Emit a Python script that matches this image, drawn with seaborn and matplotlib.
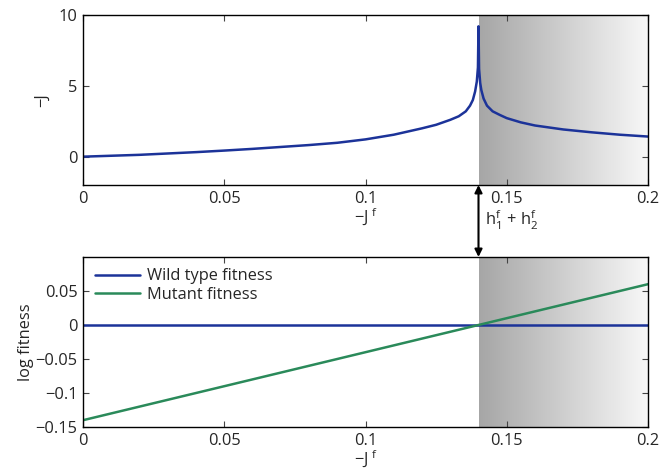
import numpy as np
import pandas as pd
import seaborn as sns
import matplotlib.pyplot as plt
from matplotlib.colors import LinearSegmentedColormap

# coupling strength -J^f vs effective -J
jf_top = [0.0, 0.02, 0.04, 0.05, 0.06, 0.08, 0.09, 0.10, 0.11, 0.12, 0.125,
          0.13, 0.133, 0.1355, 0.137, 0.138, 0.1388, 0.1394, 0.1398, 0.1400,
          0.1402, 0.1406, 0.141, 0.1418, 0.143, 0.145, 0.1475, 0.15, 0.155,
          0.16, 0.17, 0.18, 0.19, 0.20]
j_eff = [0.0, 0.13, 0.32, 0.43, 0.55, 0.82, 0.98, 1.22, 1.55, 2.0, 2.25,
         2.6, 2.85, 3.2, 3.6, 4.0, 4.6, 5.3, 6.3, 9.2,
         6.2, 5.2, 4.7, 4.1, 3.6, 3.2, 2.95, 2.72, 2.42,
         2.2, 1.92, 1.72, 1.55, 1.42]

# log fitness
jf_fit = [0.0, 0.2]
wild_fit = [0.0, 0.0]
mutant_fit = [-0.14, 0.06]

threshold = 0.14
xticks = [0, 0.05, 0.1, 0.15, 0.2]
xticklabels = ['0', '0.05', '0.1', '0.15', '0.2']
top_yticks = [0, 5, 10]
bot_yticks = [-0.15, -0.1, -0.05, 0, 0.05]
bot_yticklabels = ['\u22120.15', '\u22120.1', '\u22120.05', '0', '0.05']

sns.set_style('ticks')
plt.rcParams['font.family'] = ['Open Sans', 'DejaVu Sans']
plt.rcParams['mathtext.fontset'] = 'custom'
plt.rcParams['mathtext.rm'] = 'Open Sans'
plt.rcParams['mathtext.it'] = 'Open Sans'
plt.rcParams['font.size'] = 11.8
plt.rcParams['text.color'] = '#262626'
plt.rcParams['axes.labelcolor'] = '#262626'

blue = '#1c3399'
green = '#2a8a5a'
shade = LinearSegmentedColormap.from_list('shade', ['#a6a6a6', '#f8f8f8'])

fig = plt.figure(figsize=(6.6, 4.71), dpi=100)
ax1 = fig.add_axes([0.1258, 0.6072, 0.856, 0.361])
ax2 = fig.add_axes([0.1258, 0.0934, 0.856, 0.361])

top_ylim = (-2, 10)
bot_ylim = (-0.15, 0.1)

for ax, ylim in [(ax1, top_ylim), (ax2, bot_ylim)]:
    ax.imshow(np.linspace(0, 1, 256)[None, :], cmap=shade, aspect='auto',
              extent=[threshold, 0.2, ylim[0], ylim[1]], zorder=0)

top_df = pd.DataFrame({'x': jf_top, 'y': j_eff})
sns.lineplot(data=top_df, x='x', y='y', ax=ax1, color=blue, lw=1.8, sort=False)

sns.lineplot(x=jf_fit, y=wild_fit, ax=ax2, color=blue, lw=1.8, label='Wild type fitness')
sns.lineplot(x=jf_fit, y=mutant_fit, ax=ax2, color=green, lw=1.8, label='Mutant fitness')

for ax, ylim in [(ax1, top_ylim), (ax2, bot_ylim)]:
    ax.set_xlim(0, 0.2)
    ax.set_ylim(*ylim)
    ax.set_xticks(xticks)
    ax.set_xticklabels(xticklabels)
    ax.tick_params(direction='in', top=True, right=True, length=4, width=0.8,
                   color='#444444', labelcolor='#262626', labelsize=11.8, pad=4)
    for s in ax.spines.values():
        s.set_linewidth(1.0)
        s.set_color('black')
        s.set_visible(True)
    ax.set_xlabel('\u2212J$^{\\ f}$', labelpad=0)

ax1.set_yticks(top_yticks)
ax1.set_ylabel('\u2212J', labelpad=6)
ax2.set_yticks(bot_yticks)
ax2.set_yticklabels(bot_yticklabels)
ax2.set_ylabel('log fitness', labelpad=1)

ax2.legend(loc='upper left', frameon=False, handlelength=2.8, fontsize=11.8,
           borderaxespad=0.3, handletextpad=0.4, labelspacing=0.15)

# arrow between the panels at the threshold
ax2.annotate('', xy=(threshold, bot_ylim[1]), xycoords='data',
             xytext=(threshold, top_ylim[0]), textcoords=ax1.transData,
             arrowprops=dict(arrowstyle='<|-|>', color='black', lw=1.5,
                             mutation_scale=11, shrinkA=0, shrinkB=0),
             annotation_clip=False)
fig.text(0.735, 0.532, 'h$_1^f$ + h$_2^f$', fontsize=11.8, va='center', ha='left')

fig.savefig('out.png', dpi=100)
